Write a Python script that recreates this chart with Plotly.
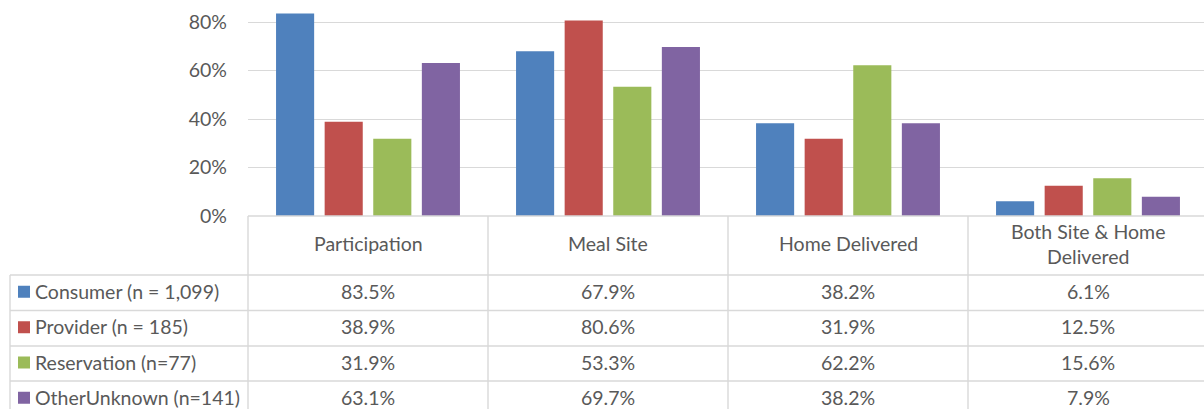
import plotly.graph_objects as go

categories = ["Participation", "Meal Site", "Home Delivered", "Both Site & Home<br>Delivered"]
series_names = ["Consumer (n = 1,099)", "Provider (n = 185)", "Reservation (n=77)", "OtherUnknown (n=141)"]
consumer = [0.835, 0.679, 0.382, 0.061]
provider = [0.389, 0.806, 0.319, 0.125]
reservation = [0.319, 0.533, 0.622, 0.156]
other_unknown = [0.631, 0.697, 0.382, 0.079]
colors = ["#4F81BD", "#C0504D", "#9BBB59", "#8064A2"]
y_ticks = [0, 0.2, 0.4, 0.6, 0.8]
y_tick_labels = ["0%", "20%", "40%", "60%", "80%"]

series_values = [consumer, provider, reservation, other_unknown]

W, H = 1204, 420
SY = H / 409.0  # vertical factor between layout pixels and target pixels
FONT = "Lato"
FS = 19.5
TXT = "#595959"
GRID = "#D9D9D9"

def fx(px):
    return px / W

def fy(py):
    return 1 - (py * SY) / H

# pixel layout (target coordinates)
plot_left = 248
zero_y = 216
top80_y = 22
cat_w = 240
row_lines = [275, 310.5, 346, 381, 416.5]
col_lines = [248, 488, 728, 968]
text_shift = 1.5

fig = go.Figure()
x_idx = list(range(len(categories)))
for name, vals, col in zip(series_names, series_values, colors):
    fig.add_trace(go.Bar(x=x_idx, y=vals, name=name, marker=dict(color=col, line=dict(width=0)),
                         showlegend=False))

x_max = -0.5 + (W - plot_left) / cat_w
y_top = 0.8 * zero_y / (zero_y - top80_y)
fig.update_layout(
    width=W, height=H,
    margin=dict(l=0, r=0, t=0, b=0),
    paper_bgcolor="white", plot_bgcolor="white",
    barmode="group", bargap=0.19, bargroupgap=0.216,
    font=dict(family=FONT, color=TXT, size=FS),
    xaxis=dict(domain=[fx(plot_left), 1], range=[-0.5, x_max], showticklabels=False,
               showgrid=False, zeroline=False, showline=False, fixedrange=True),
    yaxis=dict(domain=[fy(zero_y), 1], range=[0, y_top],
               tickvals=y_ticks, ticktext=y_tick_labels, tickfont=dict(size=FS, color=TXT, family=FONT),
               showgrid=True, gridcolor=GRID, gridwidth=1.3, zeroline=False, showline=False,
               ticks="", ticklabelstandoff=20, fixedrange=True),
)

shapes = []
line = dict(color=GRID, width=1.4)
shapes.append(dict(type="line", xref="paper", yref="paper", x0=fx(plot_left), x1=1, y0=fy(zero_y), y1=fy(zero_y), line=line, layer="above"))
for ry in row_lines:
    shapes.append(dict(type="line", xref="paper", yref="paper", x0=fx(10), x1=1, y0=fy(ry), y1=fy(ry), line=line))
for cx in col_lines:
    shapes.append(dict(type="line", xref="paper", yref="paper", x0=fx(cx), x1=fx(cx), y0=fy(zero_y), y1=0, line=line))
shapes.append(dict(type="line", xref="paper", yref="paper", x0=fx(10), x1=fx(10), y0=fy(row_lines[0]), y1=0, line=line))

annotations = []
for i, c in enumerate(categories):
    annotations.append(dict(x=i, y=fy((zero_y + row_lines[0]) / 2 - 2), xref="x", yref="paper", text=c,
                            showarrow=False, xanchor="center", yanchor="middle",
                            font=dict(family=FONT, size=FS, color=TXT)))
for r, (name, vals, col) in enumerate(zip(series_names, series_values, colors)):
    cy = (row_lines[r] + row_lines[r + 1]) / 2
    for i, v in enumerate(vals):
        annotations.append(dict(x=i, y=fy(cy - text_shift), xref="x", yref="paper", text=f"{v*100:.1f}%",
                                showarrow=False, xanchor="center", yanchor="middle",
                                font=dict(family=FONT, size=FS, color=TXT)))
    annotations.append(dict(x=fx(33), y=fy(cy - text_shift), xref="paper", yref="paper", text=name,
                            showarrow=False, xanchor="left", yanchor="middle",
                            font=dict(family=FONT, size=FS, color=TXT)))
    shapes.append(dict(type="rect", xref="paper", yref="paper", x0=fx(18), x1=fx(30),
                       y0=fy(cy - 7), y1=fy(cy + 5), fillcolor=col, line=dict(width=0)))

fig.update_layout(shapes=shapes, annotations=annotations)
fig.write_html(
    "out.html",
    config={"displayModeBar": False},
    post_script="document.body.style.margin='0';",
)
